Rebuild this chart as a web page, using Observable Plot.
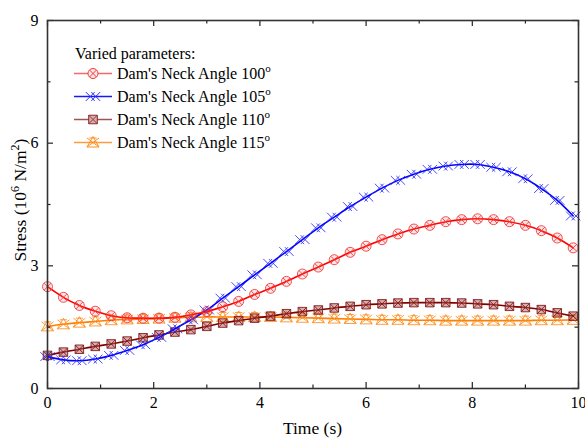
<!DOCTYPE html>
<html>
<head>
<meta charset="utf-8">
<script src="https://cdn.jsdelivr.net/npm/d3@7"></script>
<script src="https://cdn.jsdelivr.net/npm/@observablehq/plot@0.6"></script>
<style>
  html, body { margin: 0; padding: 0; background: #fff; }
  #chart { width: 585px; height: 439px; }
</style>
</head>
<body>
<div id="chart"></div>
<script>
// ---- data ----
const time = [0,0.3,0.6,0.9,1.2,1.5,1.8,2.1,2.4,2.7,3,3.3,3.6,3.9,4.2,4.5,4.8,5.1,5.4,5.7,6,6.3,6.6,6.9,7.2,7.5,7.8,8.1,8.4,8.7,9,9.3,9.6,9.9];
const angle100 = [2.49,2.23,2.03,1.89,1.78,1.73,1.72,1.72,1.74,1.80,1.88,2.00,2.13,2.30,2.45,2.62,2.80,2.97,3.15,3.33,3.48,3.64,3.78,3.90,3.99,4.08,4.13,4.15,4.13,4.08,3.99,3.86,3.68,3.44];
const angle105 = [0.78,0.70,0.68,0.72,0.81,0.93,1.07,1.25,1.46,1.68,1.92,2.21,2.49,2.78,3.06,3.35,3.64,3.93,4.19,4.45,4.68,4.90,5.09,5.24,5.36,5.44,5.48,5.48,5.41,5.30,5.13,4.89,4.60,4.22];
const angle110 = [0.81,0.89,0.96,1.03,1.09,1.16,1.24,1.31,1.38,1.44,1.52,1.60,1.66,1.72,1.77,1.83,1.88,1.92,1.97,2.01,2.05,2.07,2.09,2.10,2.10,2.10,2.09,2.07,2.05,2.01,1.98,1.93,1.85,1.77];
const angle115 = [1.52,1.57,1.61,1.64,1.67,1.69,1.70,1.71,1.73,1.74,1.75,1.75,1.75,1.75,1.75,1.74,1.73,1.72,1.71,1.70,1.69,1.68,1.68,1.67,1.67,1.66,1.66,1.66,1.66,1.66,1.66,1.67,1.67,1.68];
const seriesNames = ["100", "105", "110", "115"];
const seriesValues = [angle100, angle105, angle110, angle115];
const xTicks = [0, 2, 4, 6, 8, 10];
const xMinor = [1, 3, 5, 7, 9];
const yTicks = [0, 3, 6, 9];
const yMinor = [1.5, 4.5, 7.5];

// ---- marker symbols ----
const rad = s => Math.sqrt(s / Math.PI);
const symCircleX = {draw(c, s) { const r = rad(s), a = r * 0.7;
  c.moveTo(r, 0); c.arc(0, 0, r, 0, 2 * Math.PI);
  c.moveTo(-a, -a); c.lineTo(a, a); c.moveTo(-a, a); c.lineTo(a, -a); }};
const symDoubleX = {draw(c, s) { const r = rad(s), a = r * 0.8, d = r * 0.5;
  for (const o of [-d, d]) { c.moveTo(o - a, -a); c.lineTo(o + a, a); c.moveTo(o - a, a); c.lineTo(o + a, -a); } }};
const symSquareX = {draw(c, s) { const r = rad(s) * 0.85;
  c.moveTo(-r, -r); c.lineTo(r, -r); c.lineTo(r, r); c.lineTo(-r, r); c.closePath();
  c.moveTo(-r, -r); c.lineTo(r, r); c.moveTo(-r, r); c.lineTo(r, -r); }};
const symTriX = {draw(c, s) { const r = rad(s);
  c.moveTo(0, -r); c.lineTo(r, r * 0.75); c.lineTo(-r, r * 0.75); c.closePath();
  c.moveTo(-r, -r * 0.75); c.lineTo(r, r * 0.75); c.moveTo(-r, r * 0.75); c.lineTo(r, -r * 0.75);
  c.moveTo(-r * 0.6, -r * 0.75); c.lineTo(r * 0.6, -r * 0.75); }};

const styles = [
  {line: "#ff0000", mark: "#ee3535", fill: "#ff7070", fo: 0.18, sym: symCircleX, leg: "#f46a6a", r: 5},
  {line: "#0000ff", mark: "#2a2aff", fill: "none", fo: 0, sym: symDoubleX, leg: "#1818ff", r: 5.5},
  {line: "#800000", mark: "#801010", fill: "#b06060", fo: 0.5, sym: symSquareX, leg: "#a05555", r: 5},
  {line: "#ff8000", mark: "#ff8c1a", fill: "none", fo: 0, sym: symTriX, leg: "#ff9a40", r: 6}
];

const table = [];
seriesNames.forEach((name, i) => time.forEach((t, j) => table.push({series: name, t, v: seriesValues[i][j]})));

const marks = [];
[3, 2, 1, 0].forEach(i => {
  const d = table.filter(r => r.series === seriesNames[i]);
  const st = styles[i];
  marks.push(Plot.line(d, {x: "t", y: "v", stroke: st.line, strokeWidth: 1.6, curve: "catmull-rom"}));
  marks.push(Plot.dot(d, {x: "t", y: "v", symbol: st.sym, r: st.r, stroke: st.mark, strokeWidth: 1,
    fill: st.fill, fillOpacity: st.fo, strokeOpacity: 0.85}));
});

const W = 585, H = 439, ML = 47, MR = 7, MT = 20, MB = 51;
const FW = W - ML - MR, FH = H - MT - MB;
const axisCol = "#222";
const chart = Plot.plot({
  width: W, height: H,
  marginLeft: ML, marginRight: MR, marginTop: MT, marginBottom: MB,
  style: {fontFamily: "'Liberation Serif', 'Times New Roman', serif", fontSize: "16px", color: "#000", background: "#fff"},
  x: {domain: [0, 10], label: null},
  y: {domain: [0, 9], label: null},
  marks: [
    ...marks,
    // inward ticks (bottom, top, left, right)
    Plot.ruleX(xTicks, {insetTop: FH - 6, stroke: axisCol, strokeWidth: 1.2}),
    Plot.ruleX(xMinor, {insetTop: FH - 3.5, stroke: axisCol, strokeWidth: 1.2}),
    Plot.ruleX(xTicks, {insetBottom: FH - 6, stroke: axisCol, strokeWidth: 1.2}),
    Plot.ruleX(xMinor, {insetBottom: FH - 3.5, stroke: axisCol, strokeWidth: 1.2}),
    Plot.ruleY(yTicks, {insetRight: FW - 6, stroke: axisCol, strokeWidth: 1.2}),
    Plot.ruleY(yMinor, {insetRight: FW - 3.5, stroke: axisCol, strokeWidth: 1.2}),
    Plot.ruleY(yTicks, {insetLeft: FW - 6, stroke: axisCol, strokeWidth: 1.2}),
    Plot.ruleY(yMinor, {insetLeft: FW - 3.5, stroke: axisCol, strokeWidth: 1.2}),
    Plot.frame({stroke: "#333", strokeWidth: 1.6}),
    // tick labels
    Plot.axisX({ticks: xTicks, tickSize: 0, tickPadding: 8, label: null, fontSize: 16, fill: "#000"}),
    Plot.axisY({ticks: yTicks, tickSize: 0, tickPadding: 9, label: null, fontSize: 16, fill: "#000"})
  ]
});
document.getElementById("chart").appendChild(chart);

// ---- titles with superscripts, and legend ----
const svg = d3.select(chart);
const font = "'Liberation Serif', 'Times New Roman', serif";
svg.append("text").attr("x", 312.5).attr("y", 434).attr("text-anchor", "middle")
  .attr("font-family", font).attr("font-size", 17.5).attr("fill", "#000").text("Time (s)");
const yt = svg.append("text").attr("transform", "translate(26,200) rotate(-90)").attr("text-anchor", "middle")
  .attr("font-family", font).attr("font-size", 17.5).attr("fill", "#000");
yt.append("tspan").text("Stress (10");
yt.append("tspan").attr("dy", -7).attr("font-size", 12).text("6");
yt.append("tspan").attr("dy", 7).text(" N/m");
yt.append("tspan").attr("dy", -7).attr("font-size", 12).text("2");
yt.append("tspan").attr("dy", 7).text(")");

const lg = svg.append("g").attr("font-family", font).attr("font-size", 16).attr("fill", "#000")
  .attr("text-anchor", "start");
lg.append("text").attr("x", 75).attr("y", 58.5).attr("text-anchor", "start").text("Varied parameters:");
const rowY = [73.5, 96.5, 119.5, 142.5];
seriesNames.forEach((name, i) => {
  const st = styles[i], y = rowY[i];
  lg.append("line").attr("x1", 74).attr("x2", 112).attr("y1", y).attr("y2", y)
    .attr("stroke", st.leg).attr("stroke-width", 1.5);
  lg.append("path").attr("transform", `translate(93,${y})`)
    .attr("d", d3.symbol().type(st.sym).size(st.r * st.r * Math.PI)())
    .attr("stroke", st.mark).attr("stroke-width", 1).attr("fill", st.fill === "none" ? "none" : "#fff")
    .attr("fill-opacity", 1);
  if (st.fill !== "none") {
    lg.append("path").attr("transform", `translate(93,${y})`)
      .attr("d", d3.symbol().type(st.sym).size(st.r * st.r * Math.PI)())
      .attr("stroke", "none").attr("fill", st.fill).attr("fill-opacity", st.fo);
  }
  const tx = lg.append("text").attr("x", 117).attr("y", y + 5.5).attr("text-anchor", "start");
  tx.append("tspan").text("Dam's Neck Angle " + name);
  tx.append("tspan").attr("dy", -7).attr("font-size", 11).text("o");
});
</script>
</body>
</html>
